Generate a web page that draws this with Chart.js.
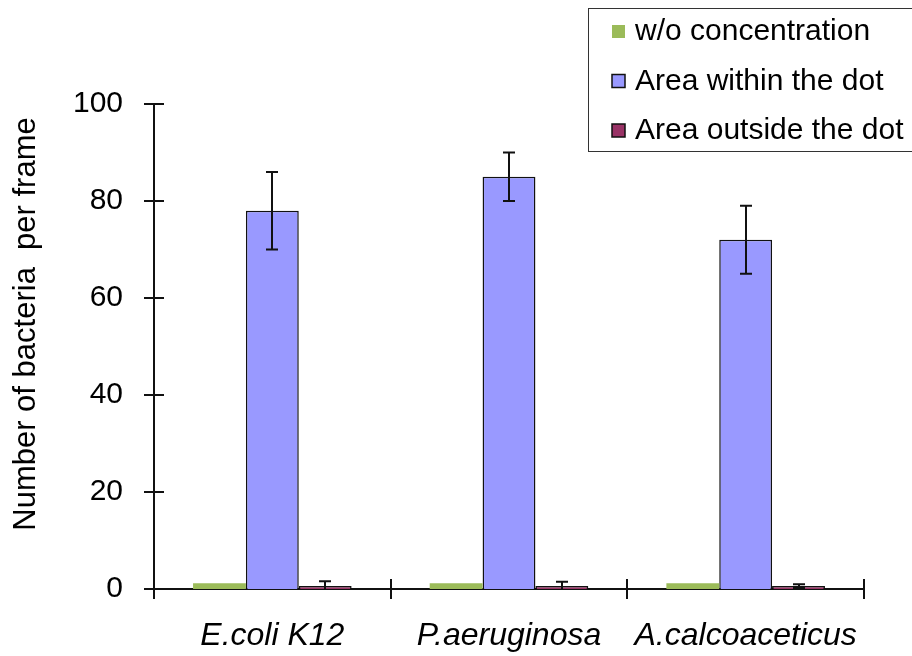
<!DOCTYPE html>
<html>
<head>
<meta charset="utf-8">
<script src="https://cdn.jsdelivr.net/npm/chart.js@4.4.1/dist/chart.umd.min.js"></script>
<style>
    html, body { margin: 0; padding: 0; background: #fff; }
    #wrap { width: 912px; height: 656px; }
</style>
</head>
<body>
<div id="wrap"><canvas id="chartBacteria" width="912" height="656"></canvas></div>
<script>
var categories = ['E.coli K12', 'P.aeruginosa', 'A.calcoaceticus'],
    without_conc = [1.2, 1.2, 1.2],
    within_dot = [78, 85, 72],
    within_dot_err = [8, 5, 7],
    outside_dot = [0.6, 0.6, 0.6],
    outside_dot_err = [1.0, 0.9, 0.4],
    y_ticks = [0, 20, 40, 60, 80, 100],
    y_title = 'Number of bacteria  per frame',
    FONT = '"Liberation Sans", Arial, sans-serif',
    ctx = document.getElementById('chartBacteria');

// error bars, drawn from the bar elements and the y scale
var errorBarsPlugin = {
    id: 'errorBars',
    afterDatasetsDraw: function (chart) {
        var c = chart.ctx,
            y = chart.scales.y;
        c.save();
        c.strokeStyle = '#111';
        c.lineWidth = 2;
        chart.data.datasets.forEach(function (ds, i) {
            if (!ds.errors) return;
            chart.getDatasetMeta(i).data.forEach(function (bar, j) {
                var v = ds.data[j],
                    e = ds.errors[j],
                    top = y.getPixelForValue(v + e),
                    low = Math.max(0, v - e),
                    bot = y.getPixelForValue(low),
                    x = Math.round(bar.x);
                c.beginPath();
                c.moveTo(x, top);
                c.lineTo(x, bot);
                c.moveTo(x - 6, top);
                c.lineTo(x + 6, top);
                if (low > 0) {
                    c.moveTo(x - 6, bot);
                    c.lineTo(x + 6, bot);
                }
                c.stroke();
            });
        });
        c.restore();
    }
};

// tick marks crossing the axes, like the original office chart
var crossTicksPlugin = {
    id: 'crossTicks',
    afterDraw: function (chart) {
        var c = chart.ctx,
            x = chart.scales.x,
            y = chart.scales.y,
            area = chart.chartArea;
        c.save();
        c.strokeStyle = '#111';
        c.lineWidth = 2;
        c.beginPath();
        y_ticks.forEach(function (t) {
            var py = Math.round(y.getPixelForValue(t));
            c.moveTo(area.left - 10, py);
            c.lineTo(area.left + 10, py);
        });
        for (var i = 0; i <= categories.length; i++) {
            var px = Math.round(x.left + i * x.width / categories.length);
            c.moveTo(px, area.bottom - 10);
            c.lineTo(px, area.bottom + 10);
        }
        c.stroke();

        // y title, rotated
        c.fillStyle = '#000';
        c.font = '31px ' + FONT;
        c.textAlign = 'center';
        c.textBaseline = 'middle';
        c.translate(26, 324);
        c.rotate(-Math.PI / 2);
        c.fillText(y_title, 0, 0);
        c.restore();
    }
};

// boxed legend in the upper right corner, overlapping the plot
var boxLegendPlugin = {
    id: 'boxLegend',
    afterDraw: function (chart) {
        var c = chart.ctx;
        c.save();
        c.fillStyle = '#fff';
        c.fillRect(588.5, 8.5, 330, 143);
        c.strokeStyle = '#333';
        c.lineWidth = 1;
        c.strokeRect(588.5, 8.5, 330, 143);
        c.font = '30px ' + FONT;
        c.textBaseline = 'middle';
        chart.data.datasets.forEach(function (ds, i) {
            var cy = 31 + i * 49.5;
            c.fillStyle = ds.backgroundColor;
            c.fillRect(612, cy - 6, 13, 13);
            if (ds.borderWidth > 0) {
                c.strokeStyle = '#111';
                c.lineWidth = 1.5;
                c.strokeRect(612, cy - 6, 13, 13);
            }
            c.fillStyle = '#000';
            c.textAlign = 'left';
            c.fillText(ds.label, 635, cy + 1);
        });
        c.restore();
    }
};

var myChart = new Chart(ctx, {
    type: 'bar',
    data: {
        labels: categories,
        datasets: [
            {
                label: 'w/o concentration',
                data: without_conc,
                backgroundColor: '#9BBB59',
                borderWidth: 0
            },
            {
                label: 'Area within the dot',
                data: within_dot,
                errors: within_dot_err,
                backgroundColor: '#9999FF',
                borderColor: '#111',
                borderWidth: 1.5
            },
            {
                label: 'Area outside the dot',
                data: outside_dot,
                errors: outside_dot_err,
                backgroundColor: '#993366',
                borderColor: '#111',
                borderWidth: 1.5
            }
        ]
    },
    options: {
        responsive: false,
        animation: false,
        devicePixelRatio: 1,
        datasets: {
            bar: {
                categoryPercentage: 0.67,
                barPercentage: 1
            }
        },
        layout: {
            padding: { top: 104, right: 48, bottom: 0, left: 0 }
        },
        plugins: {
            legend: { display: false },
            tooltip: { enabled: false }
        },
        scales: {
            x: {
                grid: { display: false, drawTicks: false },
                border: { display: true, color: '#111', width: 2 },
                ticks: {
                    color: '#000',
                    padding: 28,
                    font: { family: FONT, size: 32, style: 'italic' },
                    maxRotation: 0
                },
                afterFit: function (scale) { scale.height = 67; }
            },
            y: {
                min: 0,
                max: 100,
                grid: { display: false, drawTicks: false },
                border: { display: true, color: '#111', width: 2 },
                afterBuildTicks: function (scale) {
                    scale.ticks = y_ticks.map(function (v) { return { value: v }; });
                },
                ticks: {
                    color: '#000',
                    padding: 31,
                    font: { family: FONT, size: 30 }
                },
                afterFit: function (scale) { scale.width = 154; }
            }
        }
    },
    plugins: [errorBarsPlugin, crossTicksPlugin, boxLegendPlugin]
});
</script>
</body>
</html>
